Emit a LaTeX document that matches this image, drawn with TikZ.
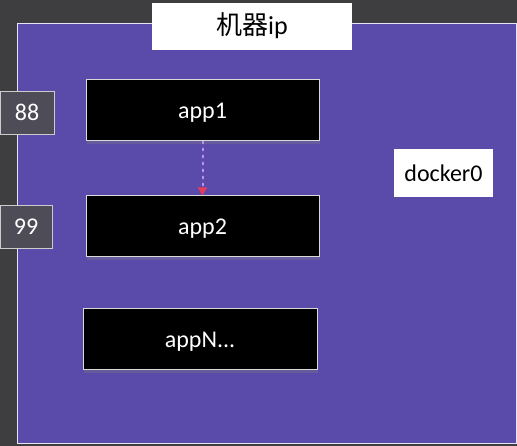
\documentclass[tikz,border=0pt]{standalone}
\usepackage{fontspec}
\setmainfont{Carlito}
\newfontfamily\cjk{Noto Sans CJK SC}
\usetikzlibrary{arrows.meta,shadows}
\definecolor{bgdark}{RGB}{62,62,64}
\definecolor{hostpurple}{RGB}{90,74,170}
\definecolor{portgray}{RGB}{78,76,86}
\definecolor{arrowred}{RGB}{230,60,90}
\definecolor{dotpurple}{RGB}{190,150,230}
\begin{document}
\begin{tikzpicture}[x=1pt,y=-1pt,
  lowtext/.style={text height=20pt,text depth=3pt},
  appbox/.style={lowtext,draw=white!85!black,line width=1pt,fill=black,text=white,font=\fontsize{24}{26}\selectfont,drop shadow={shadow xshift=1pt,shadow yshift=-3pt,opacity=0.35}},
  labbox/.style={lowtext,fill=white,text=black,draw=none},
  portbox/.style={lowtext,draw=white!80!black,line width=0.8pt,fill=portgray,text=white,font=\fontsize{24}{26}\selectfont}]
\useasboundingbox (0,0) rectangle (517,446);
\fill[bgdark] (0,0) rectangle (517,446);
\draw[fill=hostpurple,draw=white!85!hostpurple,line width=1pt] (17,24) rectangle (516,443);
\node[labbox,minimum width=200pt,minimum height=47pt,inner sep=0pt,font=\fontsize{26}{28}\selectfont] (title) at (252,26.5) {{\cjk 机器}ip};
\node[appbox,minimum width=233pt,minimum height=61pt,inner sep=0pt] (app1) at (202.5,110.5) {app1};
\node[appbox,minimum width=233pt,minimum height=61pt,inner sep=0pt] (app2) at (202.5,226.5) {app2};
\node[appbox,minimum width=234pt,minimum height=61pt,inner sep=0pt] (appN) at (200,339.5) {appN...};
\node[portbox,minimum width=54pt,minimum height=43pt,inner sep=0pt] (p88) at (27,112.5) {88};
\node[portbox,minimum width=52pt,minimum height=43pt,inner sep=0pt] (p99) at (26,226.5) {99};
\node[labbox,minimum width=99pt,minimum height=48pt,inner sep=0pt,font=\fontsize{24}{26}\selectfont] (docker) at (443.5,173) {docker0};
\draw[dotpurple,line width=2pt,dash pattern=on 2pt off 5pt,line cap=round,-{Triangle[width=9pt,length=8pt,color=arrowred]}] (app1.south) -- (app2.north);
\end{tikzpicture}
\end{document}
